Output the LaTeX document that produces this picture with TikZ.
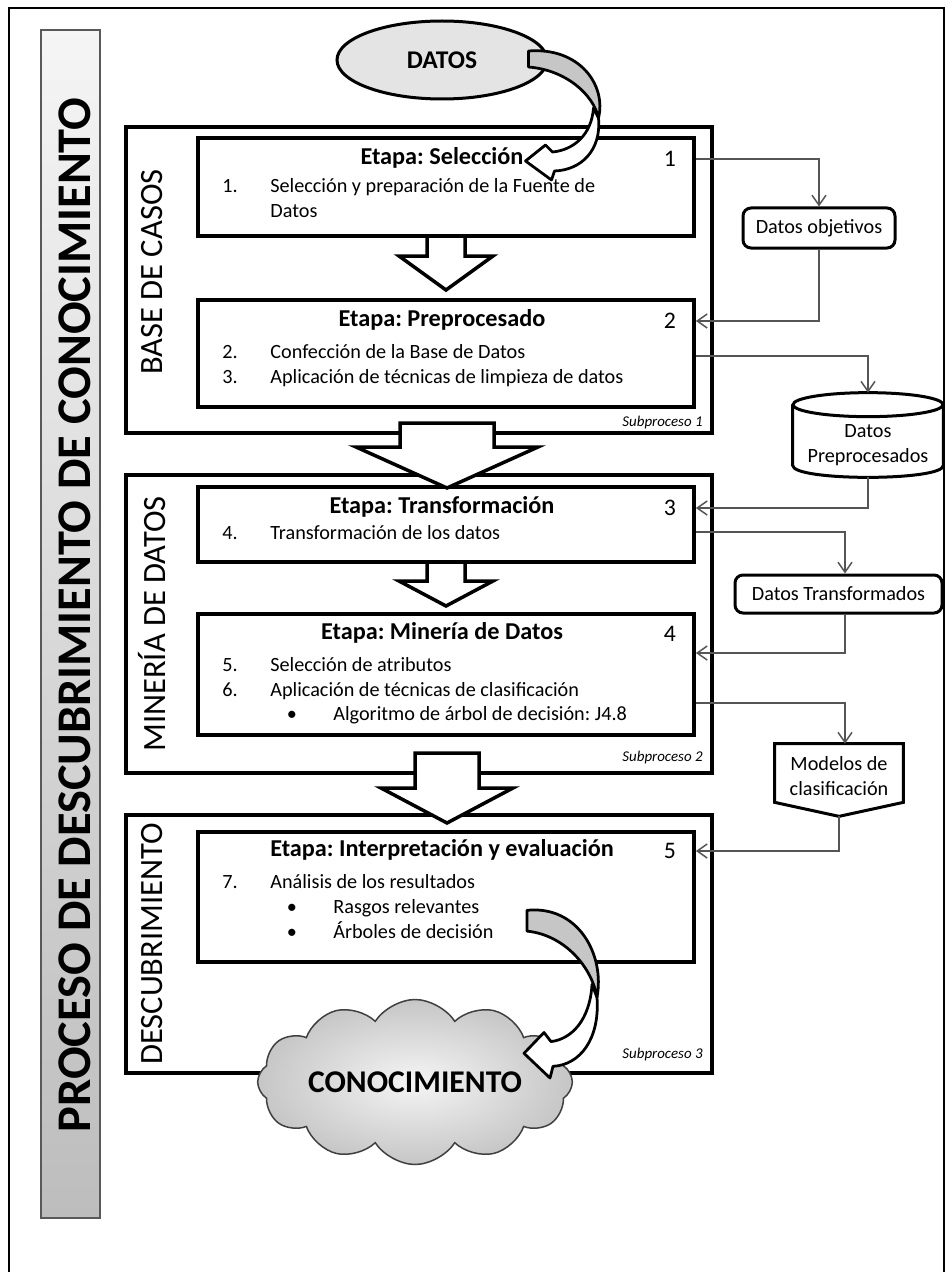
\documentclass[tikz,border=0pt]{standalone}
\usepackage{fontspec}
\setmainfont{Carlito}
\usepackage{tikz}
\usetikzlibrary{arrows.meta,calc,shapes.geometric,shapes.symbols}
\definecolor{barGray}{HTML}{BDBDBD}
\definecolor{lineGray}{HTML}{555555}
\definecolor{bandGray}{HTML}{C6C6C6}
\definecolor{ovalGray}{HTML}{E4E4E4}
\frenchspacing

\tikzset{
  bigbox/.style={draw, line width=0.75mm, minimum width=117.2mm, inner sep=0pt},
  stagebox/.style={draw, line width=0.75mm, minimum width=99.2mm, inner sep=0pt},
  item/.style={inner sep=0pt, font=\fontsize{11.5}{13}\selectfont},
  stagetitle/.style={inner sep=0pt, font=\fontsize{13.8}{16}\selectfont\bfseries},
  stagenum/.style={inner sep=0pt, font=\fontsize{13.5}{16}\selectfont},
  subproc/.style={inner sep=0pt, anchor=east, font=\fontsize{8.5}{10}\selectfont\itshape},
  vlabel/.style={inner sep=0pt, rotate=90, font=\fontsize{18.5}{20}\selectfont},
  sidebox/.style={draw, line width=0.6mm},
  sidetext/.style={align=center, inner sep=0pt, font=\fontsize{11.5}{14}\selectfont},
  conn/.style={draw=lineGray, line width=0.3mm, -{Straight Barb[length=2mm,width=2.8mm]}},
  blockarrow/.style={draw, line width=0.7mm, fill=white},
  curvarrow/.style={draw, line width=0.55mm, line join=round},
}

\begin{document}
\begin{tikzpicture}[x=0.2mm, y=-0.2mm]
  \clip (0,0) rectangle (950,1272);
  % page frame, open at the bottom
  \draw[line width=0.45mm] (9,1290) -- (9,8) -- (944,8) -- (944,1290);

  % grey title bar on the left
  \node[draw=gray!70!black, line width=0.3mm, top color=gray!8, bottom color=barGray,
        minimum width=11.8mm, minimum height=237.6mm, inner sep=0pt] (bar) at (70.5,624) {};
  \node[rotate=90, inner sep=0pt, font=\fontsize{27.5}{30}\selectfont\bfseries] (bartitle) at (75,615)
    {PROCESO DE DESCUBRIMIENTO DE CONOCIMIENTO};

  % the three sub-processes
  \node[bigbox, minimum height=61.2mm] (box1) at (419,280) {};
  \node[bigbox, minimum height=59.6mm] (box2) at (419,624) {};
  \node[bigbox, minimum height=51.6mm] (box3) at (419,944) {};
  \node[vlabel] (lab1) at (152,272) {BASE DE CASOS};
  \node[vlabel] (lab2) at (152,624) {MINERÍA DE DATOS};
  \node[vlabel] (lab3) at (152,944) {DESCUBRIMIENTO};
  \foreach \y/\k in {423/1, 758/2, 1055/3}
    \node[subproc] (sub\k) at (703,\y) {Subproceso \k};

  % stages
  \node[stagebox, minimum height=19.6mm] (st1) at (446,187) {};
  \node[stagebox, minimum height=21.4mm] (st2) at (446,353.5) {};
  \node[stagebox, minimum height=15mm]   (st3) at (446,524.5) {};
  \node[stagebox, minimum height=24.2mm] (st4) at (446,674.5) {};
  \node[stagebox, minimum height=26mm]   (st5) at (446,897) {};
  \foreach \k/\y/\t in {1/158/Selección, 2/320/Preprocesado, 3/507/Transformación,
                        4/633/Minería de Datos, 5/850/Interpretación y evaluación} {
    \node[stagetitle] (title\k) at (442,\y) {Etapa: \t};
    \node[stagenum] (n\k) at (670,\y+1) {\k};
  }

  % numbered steps and bullets (y is the text centre line)
  \foreach \y/\n/\t in {187/1./Selección y preparación de la Fuente de,
                        352/2./Confección de la Base de Datos,
                        377/3./Aplicación de técnicas de limpieza de datos,
                        533/4./Transformación de los datos,
                        665/5./Selección de atributos,
                        690/6./Aplicación de técnicas de clasificación,
                        882/7./Análisis de los resultados} {
    \node[item, anchor=base west] (num\y) at (222,\y+6) {\n};
    \node[item, anchor=base west] (txt\y) at (270,\y+6) {\t};
  }
  \node[item, anchor=base west] (txt212) at (270,218) {Datos};
  \foreach \y/\t in {714/Algoritmo de árbol de decisión: J4.8,
                     907/Rasgos relevantes, 932/Árboles de decisión} {
    \node[item, anchor=base] (bul\y) at (292,\y+6) {•};
    \node[item, anchor=base west] (btxt\y) at (333,\y+6) {\t};
  }

  % white block arrows between stages and sub-processes
  \foreach \cx/\ya/\yb/\yc/\sw/\hw in {446/236/256/290/19/47, 446/562/581/606/19/47,
                                       447/423/447/488/47/91, 447/753/788/823/32/66}
    \draw[blockarrow] (\cx-\sw,\ya) -- (\cx+\sw,\ya) -- (\cx+\sw,\yb) -- (\cx+\hw,\yb)
      -- (\cx,\yc) -- (\cx-\hw,\yb) -- (\cx-\sw,\yb) -- cycle;

  % data stores on the right
  \node[draw, line width=0.6mm, rounded corners=1.6mm, minimum width=30.4mm, minimum height=8mm,
        sidetext] (dobj) at (819,228) {Datos objetivos};
  \node[draw, line width=0.6mm, rounded corners=1.6mm, minimum width=41.4mm, minimum height=7.6mm,
        sidetext] (dtrans) at (838.5,594) {Datos Transformados};
  \node[minimum width=30mm, minimum height=16.8mm, inner sep=0pt] (prep) at (868,435) {};
  \draw[sidebox] ($(prep.north west)+(0,12)$) -- ($(prep.south west)+(0,-12)$)
    .. controls ($(prep.south west)+(0,4)$) and ($(prep.south east)+(0,4)$) .. ($(prep.south east)+(0,-12)$)
    -- ($(prep.north east)+(0,12)$);
  \draw[sidebox] ($(prep.north)+(0,12)$) ellipse [x radius=75, y radius=12];
  \node[sidetext] (preptext) at (868,445) {Datos\\Preprocesados};
  \node[minimum width=25.6mm, minimum height=11.6mm, inner sep=0pt] (modelos) at (839,773) {};
  \coordinate (modtip) at ($(modelos.south)+(0,14)$);
  \draw[sidebox, line join=miter] (modelos.north west) -- (modelos.north east) -- (modelos.south east)
    -- (modtip) -- (modelos.south west) -- cycle;
  \node[sidetext] (modtext) at (839,776) {Modelos de\\clasificación};

  % data flow
  \draw[conn] (st1.east |- n1) -| (dobj.north);
  \draw[conn] (dobj.south) |- (st2.east |- n2);
  \draw[conn] ([yshift=-1mm]st2.east |- txt352) -| (prep.north);
  \draw[conn] (prep.south) |- (st3.east |- n3);
  \draw[conn] (st3.east |- txt533) -| ([xshift=1.3mm]dtrans.north);
  \draw[conn] ([xshift=1.3mm]dtrans.south) |- ([yshift=4.3mm]st4.east);
  \draw[conn] ([yshift=-5.7mm]st4.east) -| ([xshift=1.2mm]modelos.north);
  \draw[conn] (modtip) |- (st5.east |- n5);

  % input and output
  \node[ellipse, draw, line width=0.6mm, fill=ovalGray, minimum width=42mm, minimum height=15.6mm,
        font=\fontsize{14.5}{16}\selectfont\bfseries] (datos) at (442,60) {DATOS};
  \node[cloud, cloud puffs=12, cloud puff arc=115, cloud ignores aspect, minimum width=54mm,
        minimum height=33mm, draw=black!75, line width=0.3mm, inner color=gray!8, outer color=gray!45,
        font=\fontsize{18}{20}\selectfont\bfseries] (cloud) at (415,1082) {CONOCIMIENTO};
  \coordinate (knowstart) at (547,922);

  % curved ribbon arrows: DATOS -> Selección, Interpretación -> CONOCIMIENTO
  \foreach \o/\s in {datos.east/1, knowstart/1.3} {
    \begin{scope}[shift={(\o)}, yscale=\s]
      \draw[curvarrow, fill=white] (50,58) .. controls (53,90) and (33,110) .. (6,111)
        -- (3,120) -- (-23,101) -- (-3,85) -- (4,92) .. controls (25,90) and (43,75) .. (45,48) -- cycle;
      \draw[curvarrow, fill=bandGray] (-20,-9) .. controls (31,-13) and (58,25) .. (50,58)
        .. controls (45,35) and (18,10) .. (-20,7) -- cycle;
    \end{scope}
  }
\end{tikzpicture}
\end{document}
